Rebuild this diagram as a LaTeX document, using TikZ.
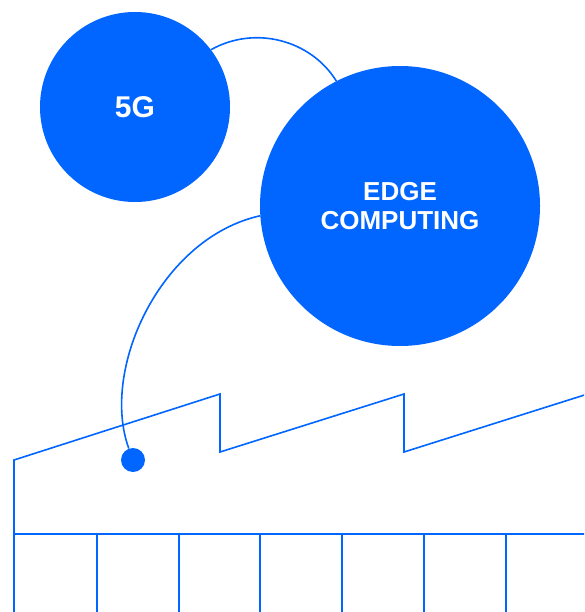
\documentclass[tikz,border=0pt]{standalone}
\usepackage{fontspec}
\setmainfont{Liberation Sans}
\usetikzlibrary{positioning}
\definecolor{brandblue}{RGB}{0,102,255}

\begin{document}
\begin{tikzpicture}[x=1pt, y=-1pt,
    bubble/.style={circle, fill=brandblue, inner sep=0pt, text=white, align=center},
    link/.style={draw=brandblue, line width=1.6pt},
    wall/.style={draw=brandblue, line width=1.6pt, line join=miter},
    sensor/.style={circle, fill=brandblue, minimum size=24pt, inner sep=0pt}
]
    \fill[white] (0,0) rectangle (584,612);
    \useasboundingbox (0,0) rectangle (584,612);
    \clip (0,0) rectangle (584,612);

    % Technology bubbles
    \node[bubble, minimum size=190pt, font=\bfseries\fontsize{30}{32}\selectfont] (fiveg) at (135,107) {\raisebox{-2pt}{5G}};
    \node[bubble, minimum size=280pt, font=\bfseries\fontsize{26}{29}\selectfont] (edge) at (400,206) {\raisebox{-2pt}{EDGE}\\\raisebox{-2pt}{COMPUTING}};

    % Factory point
    \node[sensor] (plant) at (133,460) {};

    % Connectors
    \draw[link] (fiveg.37) .. controls (255,25) and (311,40) .. (edge.117);
    \draw[link] (edge.184) .. controls (160,238) and (100,370) .. (plant.110);

    % Factory outline
    \draw[wall] (14,612) -- (14,460) -- (220,394) -- (220,452) -- (404,394) -- (404,452) -- (594,392);
    \draw[wall] (14,534) -- (590,534);
    \foreach \x in {97,179,260,342,424,506}
        \draw[wall] (\x,534) -- (\x,612);
\end{tikzpicture}
\end{document}
